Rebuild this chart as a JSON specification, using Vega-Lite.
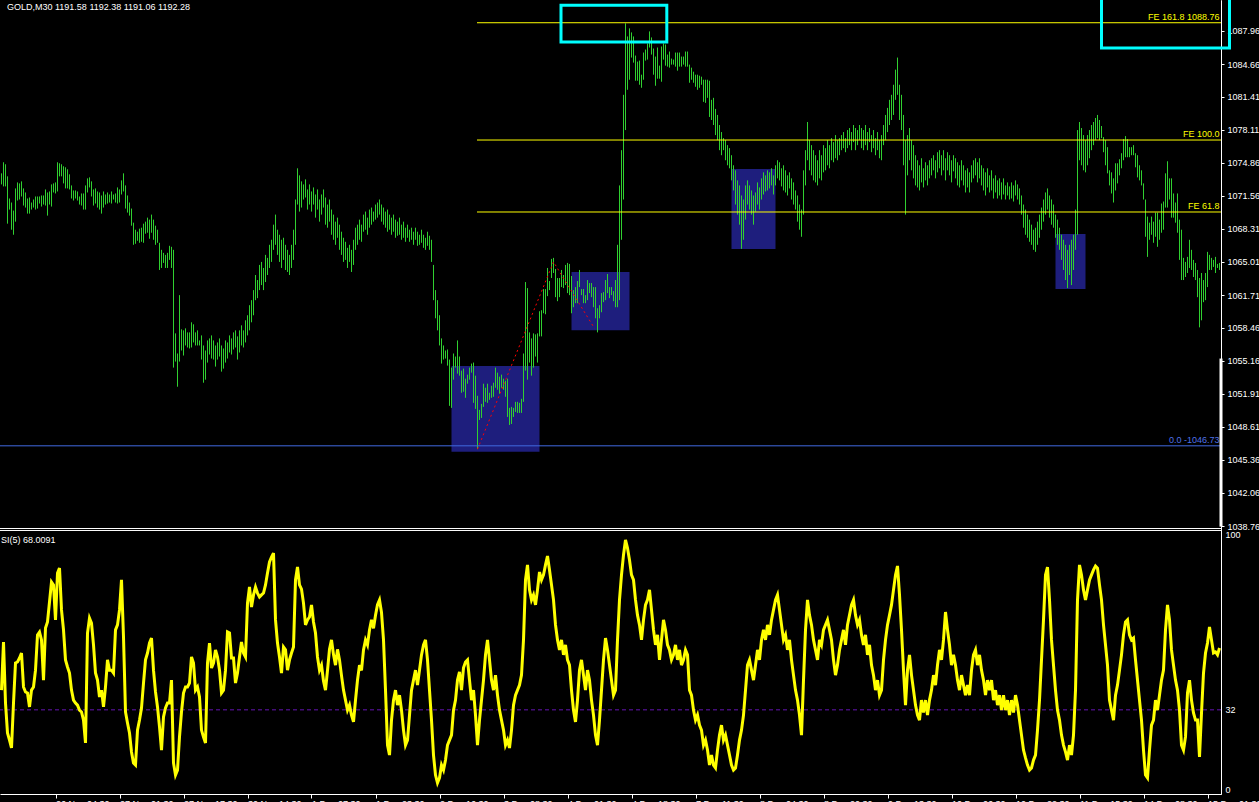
{
"$schema":"https://vega.github.io/schema/vega-lite/v6.json",
"width":1221,"height":794,
"autosize":{"type":"none"},
"padding":{"left":0,"top":0,"right":38,"bottom":8},
"background":"#000000",
"config":{"view":{"stroke":null},"axis":{"grid":false},"text":{"font":"Liberation Sans","fontSize":9}},
"datasets":{
"bars":[
{"i":0,"p":1073.8,"p2":1072.7,"r":39.5},{"i":1,"p":1074.9,"p2":1072.5,"r":57.8},{"i":2,"p":1074.7,"p2":1072.5,"r":34.6},{"i":3,"p":1073.5,"p2":1068.8,"r":23.2},{"i":4,"p":1071.3,"p2":1070.2,"r":20.5},{"i":5,"p":1070.9,"p2":1068.2,"r":17.5},{"i":6,"p":1070.1,"p2":1067.7,"r":34.6},{"i":7,"p":1072.3,"p2":1069.0,"r":49.8},{"i":8,"p":1072.9,"p2":1071.1,"r":50.2},{"i":9,"p":1072.8,"p2":1071.2,"r":51.7},
{"i":10,"p":1073.0,"p2":1071.5,"r":53.6},{"i":11,"p":1072.3,"p2":1070.6,"r":40.7},{"i":12,"p":1071.9,"p2":1070.4,"r":38.8},{"i":13,"p":1071.3,"p2":1069.8,"r":38.4},{"i":14,"p":1071.4,"p2":1069.8,"r":33.1},{"i":15,"p":1070.9,"p2":1070.2,"r":39.5},{"i":16,"p":1071.2,"p2":1070.4,"r":40.7},{"i":17,"p":1071.5,"p2":1070.2,"r":47.1},{"i":18,"p":1071.5,"p2":1070.3,"r":60.5},{"i":19,"p":1071.5,"p2":1070.8,"r":61.6},
{"i":20,"p":1071.6,"p2":1070.5,"r":58.6},{"i":21,"p":1071.6,"p2":1070.7,"r":43.3},{"i":22,"p":1072.2,"p2":1070.6,"r":63.1},{"i":23,"p":1071.9,"p2":1069.6,"r":65.4},{"i":24,"p":1072.0,"p2":1070.7,"r":73.0},{"i":25,"p":1072.7,"p2":1070.5,"r":80.6},{"i":26,"p":1072.8,"p2":1071.9,"r":79.5},{"i":27,"p":1072.9,"p2":1071.8,"r":66.2},{"i":28,"p":1074.9,"p2":1072.0,"r":84.0},{"i":29,"p":1074.8,"p2":1073.5,"r":85.9},
{"i":30,"p":1074.7,"p2":1073.5,"r":70.0},{"i":31,"p":1074.5,"p2":1072.8,"r":62.4},{"i":32,"p":1074.4,"p2":1072.3,"r":51.0},{"i":33,"p":1074.2,"p2":1072.3,"r":48.3},{"i":34,"p":1073.7,"p2":1072.2,"r":46.0},{"i":35,"p":1072.6,"p2":1071.3,"r":39.5},{"i":36,"p":1072.1,"p2":1071.1,"r":35.7},{"i":37,"p":1072.1,"p2":1071.3,"r":34.6},{"i":38,"p":1072.0,"p2":1071.1,"r":33.8},{"i":39,"p":1071.5,"p2":1070.7,"r":31.9},
{"i":40,"p":1071.8,"p2":1070.6,"r":31.2},{"i":41,"p":1071.8,"p2":1070.2,"r":28.1},{"i":42,"p":1072.6,"p2":1070.2,"r":19.4},{"i":43,"p":1073.3,"p2":1071.9,"r":61.2},{"i":44,"p":1073.4,"p2":1072.4,"r":66.9},{"i":45,"p":1073.0,"p2":1071.5,"r":65.0},{"i":46,"p":1072.2,"p2":1070.6,"r":56.7},{"i":47,"p":1072.3,"p2":1070.8,"r":46.0},{"i":48,"p":1072.0,"p2":1070.4,"r":43.3},{"i":49,"p":1071.9,"p2":1070.2,"r":36.9},
{"i":50,"p":1071.6,"p2":1069.8,"r":39.5},{"i":51,"p":1072.0,"p2":1070.4,"r":33.1},{"i":52,"p":1071.7,"p2":1070.7,"r":40.7},{"i":53,"p":1071.9,"p2":1070.8,"r":51.0},{"i":54,"p":1071.7,"p2":1070.9,"r":47.1},{"i":55,"p":1072.0,"p2":1070.8,"r":47.1},{"i":56,"p":1071.7,"p2":1071.2,"r":46.0},{"i":57,"p":1071.8,"p2":1070.9,"r":62.4},{"i":58,"p":1072.4,"p2":1070.8,"r":64.3},{"i":59,"p":1072.2,"p2":1070.9,"r":70.0},
{"i":60,"p":1073.1,"p2":1071.7,"r":81.4},{"i":61,"p":1073.8,"p2":1072.0,"r":59.7},{"i":62,"p":1072.6,"p2":1070.3,"r":31.2},{"i":63,"p":1071.6,"p2":1069.9,"r":27.0},{"i":64,"p":1070.9,"p2":1069.6,"r":23.2},{"i":65,"p":1070.3,"p2":1068.6,"r":16.0},{"i":66,"p":1068.9,"p2":1066.7,"r":11.8},{"i":67,"p":1068.2,"p2":1066.8,"r":11.0},{"i":68,"p":1068.0,"p2":1067.1,"r":24.3},{"i":69,"p":1068.3,"p2":1066.9,"r":28.1},
{"i":70,"p":1068.4,"p2":1067.0,"r":32.7},{"i":71,"p":1068.8,"p2":1066.9,"r":42.2},{"i":72,"p":1069.0,"p2":1067.8,"r":51.0},{"i":73,"p":1069.4,"p2":1067.9,"r":53.6},{"i":74,"p":1069.2,"p2":1067.3,"r":57.4},{"i":75,"p":1069.7,"p2":1067.9,"r":59.3},{"i":76,"p":1069.2,"p2":1067.2,"r":47.1},{"i":77,"p":1068.6,"p2":1066.7,"r":38.8},{"i":78,"p":1068.2,"p2":1066.9,"r":33.1},{"i":79,"p":1066.9,"p2":1064.2,"r":25.5},
{"i":80,"p":1066.2,"p2":1064.4,"r":16.7},{"i":81,"p":1065.9,"p2":1064.9,"r":29.3},{"i":82,"p":1065.7,"p2":1064.4,"r":32.7},{"i":83,"p":1065.9,"p2":1064.4,"r":34.6},{"i":84,"p":1066.6,"p2":1065.2,"r":34.6},{"i":85,"p":1066.5,"p2":1064.4,"r":43.3},{"i":86,"p":1066.2,"p2":1054.5,"r":11.8},{"i":87,"p":1057.9,"p2":1055.1,"r":7.2},{"i":88,"p":1055.9,"p2":1052.6,"r":9.1},{"i":89,"p":1061.7,"p2":1055.1,"r":21.7},
{"i":90,"p":1058.3,"p2":1056.2,"r":31.2},{"i":91,"p":1058.2,"p2":1055.7,"r":38.4},{"i":92,"p":1058.4,"p2":1056.7,"r":40.7},{"i":93,"p":1058.0,"p2":1056.5,"r":40.7},{"i":94,"p":1058.0,"p2":1056.4,"r":42.2},{"i":95,"p":1059.0,"p2":1056.5,"r":52.1},{"i":96,"p":1058.8,"p2":1057.0,"r":49.8},{"i":97,"p":1058.0,"p2":1056.7,"r":39.5},{"i":98,"p":1058.2,"p2":1056.7,"r":40.7},{"i":99,"p":1057.2,"p2":1056.7,"r":36.9},
{"i":100,"p":1057.7,"p2":1055.3,"r":24.3},{"i":101,"p":1056.7,"p2":1053.0,"r":21.7},{"i":102,"p":1056.2,"p2":1053.3,"r":19.4},{"i":103,"p":1057.2,"p2":1055.0,"r":49.8},{"i":104,"p":1057.4,"p2":1055.8,"r":57.4},{"i":105,"p":1057.7,"p2":1055.4,"r":47.9},{"i":106,"p":1057.2,"p2":1055.3,"r":49.8},{"i":107,"p":1056.7,"p2":1054.6,"r":54.8},{"i":108,"p":1057.0,"p2":1055.3,"r":52.1},{"i":109,"p":1057.4,"p2":1055.6,"r":47.1},
{"i":110,"p":1056.7,"p2":1054.1,"r":38.4},{"i":111,"p":1056.4,"p2":1054.4,"r":39.5},{"i":112,"p":1057.2,"p2":1055.0,"r":47.1},{"i":113,"p":1057.0,"p2":1055.4,"r":61.6},{"i":114,"p":1057.7,"p2":1056.0,"r":61.2},{"i":115,"p":1057.4,"p2":1055.8,"r":51.7},{"i":116,"p":1058.0,"p2":1056.3,"r":51.7},{"i":117,"p":1058.2,"p2":1056.5,"r":42.2},{"i":118,"p":1057.6,"p2":1055.3,"r":46.0},{"i":119,"p":1058.2,"p2":1056.0,"r":52.1},
{"i":120,"p":1058.7,"p2":1056.7,"r":57.8},{"i":121,"p":1058.2,"p2":1056.5,"r":53.6},{"i":122,"p":1059.2,"p2":1057.0,"r":52.1},{"i":123,"p":1059.7,"p2":1057.7,"r":72.6},{"i":124,"p":1060.7,"p2":1058.2,"r":78.7},{"i":125,"p":1061.2,"p2":1059.0,"r":71.1},{"i":126,"p":1062.2,"p2":1059.7,"r":75.7},{"i":127,"p":1063.7,"p2":1061.2,"r":78.7},{"i":128,"p":1063.2,"p2":1061.4,"r":76.4},{"i":129,"p":1064.7,"p2":1062.2,"r":74.9},
{"i":130,"p":1065.0,"p2":1062.7,"r":75.7},{"i":131,"p":1064.4,"p2":1062.2,"r":76.4},{"i":132,"p":1065.7,"p2":1063.0,"r":79.5},{"i":133,"p":1065.4,"p2":1063.7,"r":84.0},{"i":134,"p":1066.7,"p2":1064.4,"r":88.2},{"i":135,"p":1067.2,"p2":1065.0,"r":90.1},{"i":136,"p":1068.7,"p2":1066.2,"r":91.6},{"i":137,"p":1069.7,"p2":1066.7,"r":66.2},{"i":138,"p":1068.2,"p2":1065.7,"r":57.4},{"i":139,"p":1067.7,"p2":1065.0,"r":52.1},
{"i":140,"p":1067.2,"p2":1064.4,"r":46.0},{"i":141,"p":1067.4,"p2":1065.2,"r":55.9},{"i":142,"p":1066.7,"p2":1064.2,"r":54.8},{"i":143,"p":1066.2,"p2":1064.0,"r":47.1},{"i":144,"p":1065.7,"p2":1063.7,"r":51.0},{"i":145,"p":1066.7,"p2":1064.4,"r":53.6},{"i":146,"p":1068.2,"p2":1065.2,"r":55.9},{"i":147,"p":1071.2,"p2":1066.7,"r":81.4},{"i":148,"p":1074.3,"p2":1070.7,"r":86.3},{"i":149,"p":1073.6,"p2":1070.0,"r":79.5},
{"i":150,"p":1073.0,"p2":1070.4,"r":77.9},{"i":151,"p":1072.7,"p2":1071.2,"r":72.6},{"i":152,"p":1073.2,"p2":1071.4,"r":64.3},{"i":153,"p":1072.2,"p2":1070.2,"r":66.2},{"i":154,"p":1072.7,"p2":1070.7,"r":67.3},{"i":155,"p":1072.0,"p2":1070.0,"r":71.9},{"i":156,"p":1072.4,"p2":1070.7,"r":65.4},{"i":157,"p":1071.7,"p2":1069.4,"r":61.2},{"i":158,"p":1072.2,"p2":1070.2,"r":52.1},{"i":159,"p":1071.2,"p2":1069.0,"r":47.1},
{"i":160,"p":1071.7,"p2":1069.7,"r":49.0},{"i":161,"p":1072.2,"p2":1070.4,"r":43.0},{"i":162,"p":1071.4,"p2":1068.7,"r":39.5},{"i":163,"p":1070.7,"p2":1068.4,"r":47.0},{"i":164,"p":1071.2,"p2":1069.0,"r":55.0},{"i":165,"p":1070.2,"p2":1067.7,"r":58.6},{"i":166,"p":1069.7,"p2":1067.2,"r":53.0},{"i":167,"p":1069.0,"p2":1066.7,"r":49.0},{"i":168,"p":1069.4,"p2":1067.4,"r":55.0},{"i":169,"p":1068.7,"p2":1066.2,"r":51.0},
{"i":170,"p":1068.0,"p2":1065.7,"r":45.0},{"i":171,"p":1067.4,"p2":1065.0,"r":39.5},{"i":172,"p":1067.0,"p2":1065.2,"r":35.7},{"i":173,"p":1066.4,"p2":1064.4,"r":31.9},{"i":174,"p":1066.7,"p2":1065.0,"r":33.8},{"i":175,"p":1066.2,"p2":1064.0,"r":30.0},{"i":176,"p":1067.2,"p2":1064.7,"r":27.4},{"i":177,"p":1068.4,"p2":1066.2,"r":35.7},{"i":178,"p":1068.7,"p2":1066.7,"r":43.3},{"i":179,"p":1069.2,"p2":1067.2,"r":49.0},
{"i":180,"p":1068.7,"p2":1067.0,"r":47.0},{"i":181,"p":1069.7,"p2":1068.0,"r":54.8},{"i":182,"p":1070.0,"p2":1068.2,"r":58.6},{"i":183,"p":1069.4,"p2":1067.7,"r":56.7},{"i":184,"p":1070.2,"p2":1068.4,"r":62.4},{"i":185,"p":1070.4,"p2":1068.7,"r":66.2},{"i":186,"p":1070.0,"p2":1069.0,"r":63.0},{"i":187,"p":1070.7,"p2":1069.2,"r":68.0},{"i":188,"p":1070.9,"p2":1069.4,"r":72.0},{"i":189,"p":1071.2,"p2":1069.7,"r":73.8},
{"i":190,"p":1070.7,"p2":1069.0,"r":69.0},{"i":191,"p":1070.4,"p2":1068.7,"r":58.6},{"i":192,"p":1070.0,"p2":1068.4,"r":39.5},{"i":193,"p":1070.2,"p2":1068.0,"r":18.6},{"i":194,"p":1069.7,"p2":1068.2,"r":14.8},{"i":195,"p":1069.4,"p2":1067.7,"r":28.1},{"i":196,"p":1069.7,"p2":1068.0,"r":35.7},{"i":197,"p":1069.2,"p2":1067.4,"r":39.5},{"i":198,"p":1069.0,"p2":1067.6,"r":33.8},{"i":199,"p":1069.4,"p2":1067.7,"r":37.6},
{"i":200,"p":1068.7,"p2":1067.2,"r":31.9},{"i":201,"p":1069.0,"p2":1067.4,"r":24.3},{"i":202,"p":1068.4,"p2":1067.0,"r":18.6},{"i":203,"p":1068.7,"p2":1067.4,"r":20.5},{"i":204,"p":1068.2,"p2":1067.0,"r":30.0},{"i":205,"p":1068.4,"p2":1067.2,"r":39.5},{"i":206,"p":1068.0,"p2":1066.7,"r":43.3},{"i":207,"p":1068.4,"p2":1067.2,"r":47.1},{"i":208,"p":1068.0,"p2":1066.6,"r":41.4},{"i":209,"p":1067.7,"p2":1066.7,"r":47.1},
{"i":210,"p":1068.2,"p2":1066.9,"r":52.9},{"i":211,"p":1067.7,"p2":1066.4,"r":56.7},{"i":212,"p":1067.4,"p2":1066.2,"r":58.6},{"i":213,"p":1068.0,"p2":1066.6,"r":51.0},{"i":214,"p":1067.6,"p2":1066.2,"r":39.5},{"i":215,"p":1067.2,"p2":1065.0,"r":28.1},{"i":216,"p":1064.7,"p2":1061.2,"r":14.8},{"i":217,"p":1062.2,"p2":1059.4,"r":7.2},{"i":218,"p":1061.2,"p2":1058.2,"r":4.2},{"i":219,"p":1059.7,"p2":1056.7,"r":6.1},
{"i":220,"p":1057.4,"p2":1054.9,"r":11.0},{"i":221,"p":1056.7,"p2":1055.3,"r":9.1},{"i":222,"p":1056.2,"p2":1055.4,"r":12.9},{"i":223,"p":1056.3,"p2":1054.7,"r":18.6},{"i":224,"p":1055.3,"p2":1050.7,"r":20.5},{"i":225,"p":1054.5,"p2":1050.5,"r":22.4},{"i":226,"p":1055.9,"p2":1053.3,"r":31.9},{"i":227,"p":1055.6,"p2":1054.5,"r":35.7},{"i":228,"p":1057.2,"p2":1053.9,"r":43.3},{"i":229,"p":1055.6,"p2":1053.7,"r":46.4},
{"i":230,"p":1054.2,"p2":1052.0,"r":39.5},{"i":231,"p":1054.4,"p2":1052.1,"r":48.0},{"i":232,"p":1053.4,"p2":1051.5,"r":50.2},{"i":233,"p":1053.8,"p2":1052.9,"r":51.0},{"i":234,"p":1054.5,"p2":1053.3,"r":43.3},{"i":235,"p":1054.9,"p2":1054.0,"r":35.7},{"i":236,"p":1055.0,"p2":1051.0,"r":39.5},{"i":237,"p":1053.7,"p2":1050.4,"r":30.0},{"i":238,"p":1051.7,"p2":1046.4,"r":18.6},{"i":239,"p":1050.3,"p2":1049.3,"r":28.1},
{"i":240,"p":1050.9,"p2":1049.5,"r":35.7},{"i":241,"p":1052.9,"p2":1050.6,"r":43.3},{"i":242,"p":1052.5,"p2":1051.1,"r":52.9},{"i":243,"p":1052.9,"p2":1051.0,"r":58.6},{"i":244,"p":1052.0,"p2":1051.3,"r":51.0},{"i":245,"p":1052.7,"p2":1051.5,"r":43.3},{"i":246,"p":1053.0,"p2":1051.6,"r":39.5},{"i":247,"p":1054.5,"p2":1052.5,"r":45.2},{"i":248,"p":1054.0,"p2":1052.3,"r":37.6},{"i":249,"p":1053.6,"p2":1051.9,"r":31.9},
{"i":250,"p":1053.8,"p2":1052.5,"r":28.1},{"i":251,"p":1053.4,"p2":1052.3,"r":24.3},{"i":252,"p":1053.2,"p2":1051.6,"r":18.6},{"i":253,"p":1053.4,"p2":1049.6,"r":20.5},{"i":254,"p":1050.5,"p2":1048.8,"r":17.5},{"i":255,"p":1050.6,"p2":1048.9,"r":24.3},{"i":256,"p":1050.5,"p2":1049.6,"r":33.8},{"i":257,"p":1051.1,"p2":1050.1,"r":37.6},{"i":258,"p":1051.1,"p2":1050.0,"r":39.5},{"i":259,"p":1051.0,"p2":1050.0,"r":41.4},
{"i":260,"p":1051.4,"p2":1050.0,"r":45.2},{"i":261,"p":1055.9,"p2":1051.1,"r":58.6},{"i":262,"p":1063.0,"p2":1054.2,"r":81.4},{"i":263,"p":1062.4,"p2":1053.3,"r":87.1},{"i":264,"p":1058.0,"p2":1055.0,"r":77.6},{"i":265,"p":1057.4,"p2":1053.7,"r":73.8},{"i":266,"p":1057.9,"p2":1054.5,"r":75.7},{"i":267,"p":1057.8,"p2":1055.6,"r":71.9},{"i":268,"p":1057.9,"p2":1055.0,"r":77.6},{"i":269,"p":1060.1,"p2":1057.6,"r":84.4},
{"i":270,"p":1060.2,"p2":1057.6,"r":81.4},{"i":271,"p":1062.3,"p2":1059.9,"r":83.3},{"i":272,"p":1062.3,"p2":1059.8,"r":87.1},{"i":273,"p":1064.4,"p2":1061.6,"r":90.5},{"i":274,"p":1063.1,"p2":1062.2,"r":85.2},{"i":275,"p":1065.3,"p2":1063.4,"r":79.5},{"i":276,"p":1065.4,"p2":1063.9,"r":73.8},{"i":277,"p":1064.3,"p2":1061.5,"r":64.3},{"i":278,"p":1063.4,"p2":1061.1,"r":58.6},{"i":279,"p":1063.4,"p2":1061.5,"r":54.8},
{"i":280,"p":1064.2,"p2":1062.5,"r":58.6},{"i":281,"p":1063.7,"p2":1062.4,"r":52.9},{"i":282,"p":1064.7,"p2":1062.7,"r":56.7},{"i":283,"p":1064.9,"p2":1061.9,"r":51.0},{"i":284,"p":1064.8,"p2":1061.7,"r":49.0},{"i":285,"p":1063.6,"p2":1059.9,"r":39.5},{"i":286,"p":1062.2,"p2":1060.5,"r":31.9},{"i":287,"p":1062.5,"p2":1060.9,"r":27.4},{"i":288,"p":1063.1,"p2":1060.9,"r":35.7},{"i":289,"p":1064.2,"p2":1062.5,"r":47.1},
{"i":290,"p":1062.3,"p2":1061.7,"r":51.0},{"i":291,"p":1062.3,"p2":1060.9,"r":45.2},{"i":292,"p":1061.7,"p2":1060.9,"r":39.5},{"i":293,"p":1063.2,"p2":1061.2,"r":47.1},{"i":294,"p":1062.9,"p2":1061.9,"r":43.3},{"i":295,"p":1062.9,"p2":1061.5,"r":35.7},{"i":296,"p":1062.5,"p2":1060.5,"r":30.0},{"i":297,"p":1062.5,"p2":1059.4,"r":22.4},{"i":298,"p":1060.4,"p2":1058.0,"r":18.6},{"i":299,"p":1060.7,"p2":1059.4,"r":28.1},
{"i":300,"p":1061.9,"p2":1060.0,"r":39.5},{"i":301,"p":1062.0,"p2":1061.0,"r":51.0},{"i":302,"p":1063.2,"p2":1061.2,"r":59.3},{"i":303,"p":1063.8,"p2":1061.9,"r":54.8},{"i":304,"p":1062.5,"p2":1061.4,"r":49.0},{"i":305,"p":1062.5,"p2":1061.7,"r":43.3},{"i":306,"p":1062.1,"p2":1061.1,"r":37.6},{"i":307,"p":1063.2,"p2":1060.5,"r":39.5},{"i":308,"p":1066.7,"p2":1060.5,"r":58.6},{"i":309,"p":1072.6,"p2":1061.2,"r":73.8},
{"i":310,"p":1076.1,"p2":1067.2,"r":83.3},{"i":311,"p":1081.6,"p2":1071.2,"r":90.9},{"i":312,"p":1088.7,"p2":1078.1,"r":96.6},{"i":313,"p":1087.4,"p2":1082.1,"r":93.5},{"i":314,"p":1088.2,"p2":1083.1,"r":89.0},{"i":315,"p":1087.8,"p2":1085.3,"r":83.3},{"i":316,"p":1087.4,"p2":1084.8,"r":81.4},{"i":317,"p":1085.5,"p2":1083.0,"r":73.8},{"i":318,"p":1084.9,"p2":1083.0,"r":68.0},{"i":319,"p":1085.0,"p2":1082.6,"r":64.3},
{"i":320,"p":1083.6,"p2":1082.3,"r":58.6},{"i":321,"p":1085.8,"p2":1083.1,"r":66.2},{"i":322,"p":1086.1,"p2":1085.0,"r":71.9},{"i":323,"p":1086.7,"p2":1085.1,"r":73.8},{"i":324,"p":1087.9,"p2":1086.3,"r":77.6},{"i":325,"p":1087.3,"p2":1085.6,"r":70.0},{"i":326,"p":1086.2,"p2":1083.6,"r":62.4},{"i":327,"p":1085.4,"p2":1082.5,"r":56.7},{"i":328,"p":1086.3,"p2":1083.2,"r":60.5},{"i":329,"p":1084.5,"p2":1083.2,"r":51.0},
{"i":330,"p":1086.4,"p2":1082.9,"r":58.6},{"i":331,"p":1086.7,"p2":1085.1,"r":66.2},{"i":332,"p":1086.6,"p2":1084.5,"r":62.4},{"i":333,"p":1085.6,"p2":1084.4,"r":56.7},{"i":334,"p":1085.9,"p2":1084.3,"r":54.8},{"i":335,"p":1085.2,"p2":1084.6,"r":51.0},{"i":336,"p":1085.1,"p2":1084.6,"r":52.9},{"i":337,"p":1085.8,"p2":1084.4,"r":56.7},{"i":338,"p":1085.8,"p2":1084.0,"r":51.0},{"i":339,"p":1085.8,"p2":1084.4,"r":54.8},
{"i":340,"p":1085.4,"p2":1084.4,"r":49.0},{"i":341,"p":1085.4,"p2":1084.6,"r":51.0},{"i":342,"p":1085.9,"p2":1084.4,"r":54.8},{"i":343,"p":1085.9,"p2":1084.4,"r":52.9},{"i":344,"p":1084.6,"p2":1082.8,"r":39.5},{"i":345,"p":1084.3,"p2":1083.1,"r":37.6},{"i":346,"p":1083.9,"p2":1082.8,"r":31.9},{"i":347,"p":1083.6,"p2":1082.4,"r":28.1},{"i":348,"p":1083.6,"p2":1082.1,"r":30.0},{"i":349,"p":1083.5,"p2":1082.3,"r":26.2},
{"i":350,"p":1083.4,"p2":1082.6,"r":24.3},{"i":351,"p":1083.1,"p2":1080.9,"r":18.6},{"i":352,"p":1083.1,"p2":1080.8,"r":20.5},{"i":353,"p":1083.1,"p2":1081.3,"r":16.7},{"i":354,"p":1083.0,"p2":1079.4,"r":11.0},{"i":355,"p":1081.1,"p2":1079.1,"r":14.8},{"i":356,"p":1081.3,"p2":1078.6,"r":11.0},{"i":357,"p":1080.2,"p2":1077.6,"r":9.9},{"i":358,"p":1079.6,"p2":1077.1,"r":16.7},{"i":359,"p":1078.6,"p2":1076.1,"r":22.4},
{"i":360,"p":1077.9,"p2":1075.6,"r":26.2},{"i":361,"p":1077.3,"p2":1076.1,"r":20.5},{"i":362,"p":1077.1,"p2":1075.1,"r":22.4},{"i":363,"p":1076.6,"p2":1074.6,"r":18.6},{"i":364,"p":1076.3,"p2":1074.3,"r":14.8},{"i":365,"p":1075.6,"p2":1073.1,"r":11.0},{"i":366,"p":1074.6,"p2":1072.1,"r":9.1},{"i":367,"p":1074.1,"p2":1070.7,"r":9.9},{"i":368,"p":1073.1,"p2":1069.7,"r":14.8},{"i":369,"p":1072.6,"p2":1068.7,"r":20.5},
{"i":370,"p":1071.6,"p2":1066.3,"r":24.3},{"i":371,"p":1071.2,"p2":1067.2,"r":30.0},{"i":372,"p":1072.6,"p2":1069.2,"r":39.5},{"i":373,"p":1073.1,"p2":1070.7,"r":49.0},{"i":374,"p":1072.6,"p2":1070.2,"r":51.0},{"i":375,"p":1072.1,"p2":1069.7,"r":47.1},{"i":376,"p":1071.6,"p2":1068.7,"r":43.3},{"i":377,"p":1071.9,"p2":1070.0,"r":49.0},{"i":378,"p":1072.9,"p2":1070.7,"r":54.8},{"i":379,"p":1072.4,"p2":1070.2,"r":51.0},
{"i":380,"p":1073.3,"p2":1071.2,"r":58.6},{"i":381,"p":1073.9,"p2":1071.7,"r":62.4},{"i":382,"p":1073.6,"p2":1072.0,"r":58.6},{"i":383,"p":1074.1,"p2":1072.1,"r":64.3},{"i":384,"p":1073.9,"p2":1072.3,"r":60.5},{"i":385,"p":1074.3,"p2":1072.6,"r":66.2},{"i":386,"p":1073.6,"p2":1071.7,"r":70.0},{"i":387,"p":1074.6,"p2":1072.6,"r":73.8},{"i":388,"p":1075.1,"p2":1073.3,"r":75.7},{"i":389,"p":1074.9,"p2":1073.1,"r":70.0},
{"i":390,"p":1074.3,"p2":1072.5,"r":64.3},{"i":391,"p":1074.6,"p2":1072.1,"r":58.6},{"i":392,"p":1074.1,"p2":1071.9,"r":60.5},{"i":393,"p":1073.6,"p2":1071.6,"r":54.8},{"i":394,"p":1073.9,"p2":1072.3,"r":58.6},{"i":395,"p":1073.3,"p2":1071.2,"r":51.0},{"i":396,"p":1072.9,"p2":1070.7,"r":45.2},{"i":397,"p":1072.1,"p2":1070.2,"r":39.5},{"i":398,"p":1071.6,"p2":1069.0,"r":35.7},{"i":399,"p":1070.7,"p2":1068.2,"r":30.0},
{"i":400,"p":1070.2,"p2":1067.5,"r":22.4},{"i":401,"p":1074.1,"p2":1069.7,"r":43.3},{"i":402,"p":1076.1,"p2":1072.6,"r":62.4},{"i":403,"p":1078.9,"p2":1075.1,"r":73.8},{"i":404,"p":1077.1,"p2":1074.1,"r":68.0},{"i":405,"p":1076.6,"p2":1073.6,"r":64.3},{"i":406,"p":1076.1,"p2":1073.1,"r":58.6},{"i":407,"p":1075.6,"p2":1072.9,"r":54.8},{"i":408,"p":1075.1,"p2":1072.6,"r":51.0},{"i":409,"p":1076.1,"p2":1073.3,"r":58.6},
{"i":410,"p":1075.6,"p2":1073.1,"r":56.7},{"i":411,"p":1076.6,"p2":1073.9,"r":62.4},{"i":412,"p":1076.3,"p2":1074.1,"r":64.3},{"i":413,"p":1077.1,"p2":1074.6,"r":66.2},{"i":414,"p":1076.6,"p2":1074.3,"r":62.4},{"i":415,"p":1077.3,"p2":1075.1,"r":58.6},{"i":416,"p":1076.9,"p2":1074.9,"r":51.0},{"i":417,"p":1077.6,"p2":1075.3,"r":45.2},{"i":418,"p":1077.1,"p2":1075.1,"r":49.0},{"i":419,"p":1077.3,"p2":1075.6,"r":54.8},
{"i":420,"p":1077.6,"p2":1076.1,"r":58.6},{"i":421,"p":1077.9,"p2":1076.3,"r":62.4},{"i":422,"p":1077.3,"p2":1075.9,"r":56.7},{"i":423,"p":1078.1,"p2":1076.3,"r":64.3},{"i":424,"p":1078.3,"p2":1076.6,"r":68.0},{"i":425,"p":1077.9,"p2":1076.1,"r":71.9},{"i":426,"p":1078.6,"p2":1076.9,"r":73.8},{"i":427,"p":1078.3,"p2":1076.1,"r":68.0},{"i":428,"p":1078.1,"p2":1076.6,"r":64.3},{"i":429,"p":1078.6,"p2":1077.1,"r":66.2},
{"i":430,"p":1078.3,"p2":1076.3,"r":60.5},{"i":431,"p":1078.1,"p2":1076.1,"r":56.7},{"i":432,"p":1078.6,"p2":1076.6,"r":60.5},{"i":433,"p":1077.9,"p2":1076.1,"r":52.9},{"i":434,"p":1078.3,"p2":1076.9,"r":56.7},{"i":435,"p":1077.6,"p2":1075.9,"r":49.0},{"i":436,"p":1078.1,"p2":1076.3,"r":45.2},{"i":437,"p":1077.3,"p2":1075.6,"r":39.5},{"i":438,"p":1077.9,"p2":1076.1,"r":43.3},{"i":439,"p":1077.1,"p2":1075.3,"r":37.6},
{"i":440,"p":1077.6,"p2":1075.1,"r":39.5},{"i":441,"p":1078.6,"p2":1076.6,"r":51.0},{"i":442,"p":1079.6,"p2":1077.1,"r":58.6},{"i":443,"p":1080.3,"p2":1077.9,"r":64.3},{"i":444,"p":1081.1,"p2":1078.6,"r":68.0},{"i":445,"p":1081.6,"p2":1079.1,"r":71.9},{"i":446,"p":1082.6,"p2":1079.6,"r":77.6},{"i":447,"p":1084.1,"p2":1081.1,"r":83.3},{"i":448,"p":1085.3,"p2":1081.6,"r":86.7},{"i":449,"p":1082.6,"p2":1079.1,"r":75.7},
{"i":450,"p":1081.6,"p2":1078.1,"r":62.4},{"i":451,"p":1079.6,"p2":1074.6,"r":47.1},{"i":452,"p":1077.1,"p2":1069.7,"r":33.8},{"i":453,"p":1077.6,"p2":1073.6,"r":47.1},{"i":454,"p":1078.3,"p2":1075.1,"r":52.9},{"i":455,"p":1077.1,"p2":1074.1,"r":45.2},{"i":456,"p":1076.6,"p2":1073.3,"r":39.5},{"i":457,"p":1075.6,"p2":1072.6,"r":33.8},{"i":458,"p":1075.1,"p2":1072.4,"r":30.0},{"i":459,"p":1074.6,"p2":1072.1,"r":28.1},
{"i":460,"p":1075.3,"p2":1072.9,"r":35.7},{"i":461,"p":1074.3,"p2":1072.4,"r":31.0},{"i":462,"p":1074.9,"p2":1073.1,"r":35.7},{"i":463,"p":1074.6,"p2":1072.6,"r":30.0},{"i":464,"p":1075.1,"p2":1073.3,"r":35.7},{"i":465,"p":1075.3,"p2":1073.6,"r":39.5},{"i":466,"p":1075.6,"p2":1074.1,"r":45.2},{"i":467,"p":1075.1,"p2":1073.3,"r":41.4},{"i":468,"p":1075.9,"p2":1073.9,"r":49.0},{"i":469,"p":1076.1,"p2":1074.3,"r":54.8},
{"i":470,"p":1075.6,"p2":1073.6,"r":51.0},{"i":471,"p":1076.1,"p2":1074.1,"r":58.6},{"i":472,"p":1075.3,"p2":1073.1,"r":69.2},{"i":473,"p":1075.9,"p2":1074.1,"r":62.4},{"i":474,"p":1075.6,"p2":1073.6,"r":56.7},{"i":475,"p":1075.1,"p2":1072.9,"r":49.0},{"i":476,"p":1075.6,"p2":1074.0,"r":52.9},{"i":477,"p":1075.3,"p2":1073.3,"r":49.0},{"i":478,"p":1074.9,"p2":1072.6,"r":43.3},{"i":479,"p":1074.6,"p2":1072.4,"r":39.5},
{"i":480,"p":1075.1,"p2":1073.1,"r":45.2},{"i":481,"p":1074.6,"p2":1072.6,"r":41.4},{"i":482,"p":1074.1,"p2":1071.9,"r":37.6},{"i":483,"p":1074.3,"p2":1072.4,"r":41.4},{"i":484,"p":1073.9,"p2":1071.9,"r":37.6},{"i":485,"p":1074.6,"p2":1072.9,"r":47.1},{"i":486,"p":1075.1,"p2":1073.3,"r":52.9},{"i":487,"p":1075.3,"p2":1073.6,"r":54.8},{"i":488,"p":1074.9,"p2":1072.9,"r":49.0},{"i":489,"p":1075.3,"p2":1073.3,"r":52.9},
{"i":490,"p":1074.6,"p2":1072.6,"r":47.1},{"i":491,"p":1074.3,"p2":1072.1,"r":43.3},{"i":492,"p":1073.9,"p2":1071.6,"r":37.6},{"i":493,"p":1074.3,"p2":1072.4,"r":43.3},{"i":494,"p":1073.6,"p2":1071.9,"r":39.5},{"i":495,"p":1074.1,"p2":1072.1,"r":43.3},{"i":496,"p":1073.3,"p2":1071.3,"r":35.7},{"i":497,"p":1073.6,"p2":1071.9,"r":39.5},{"i":498,"p":1073.1,"p2":1071.3,"r":33.8},{"i":499,"p":1073.3,"p2":1071.6,"r":37.6},
{"i":500,"p":1072.9,"p2":1071.2,"r":31.9},{"i":501,"p":1073.3,"p2":1071.7,"r":37.6},{"i":502,"p":1072.6,"p2":1071.2,"r":31.9},{"i":503,"p":1072.9,"p2":1071.6,"r":35.7},{"i":504,"p":1072.5,"p2":1071.2,"r":30.0},{"i":505,"p":1072.9,"p2":1071.3,"r":35.7},{"i":506,"p":1072.6,"p2":1071.0,"r":31.0},{"i":507,"p":1073.1,"p2":1071.6,"r":37.6},{"i":508,"p":1072.7,"p2":1071.2,"r":33.8},{"i":509,"p":1072.3,"p2":1070.7,"r":28.1},
{"i":510,"p":1071.6,"p2":1069.7,"r":22.4},{"i":511,"p":1070.7,"p2":1068.4,"r":16.7},{"i":512,"p":1070.2,"p2":1067.7,"r":13.7},{"i":513,"p":1069.7,"p2":1067.4,"r":11.0},{"i":514,"p":1069.2,"p2":1067.0,"r":9.1},{"i":515,"p":1068.7,"p2":1066.7,"r":9.9},{"i":516,"p":1068.2,"p2":1066.2,"r":12.9},{"i":517,"p":1068.4,"p2":1066.0,"r":14.8},{"i":518,"p":1069.0,"p2":1066.7,"r":24.3},{"i":519,"p":1069.7,"p2":1067.4,"r":35.7},
{"i":520,"p":1070.4,"p2":1068.2,"r":51.0},{"i":521,"p":1071.2,"p2":1069.0,"r":66.2},{"i":522,"p":1071.9,"p2":1069.7,"r":83.3},{"i":523,"p":1072.3,"p2":1070.2,"r":86.3},{"i":524,"p":1071.6,"p2":1069.4,"r":73.8},{"i":525,"p":1071.2,"p2":1068.7,"r":58.6},{"i":526,"p":1070.7,"p2":1068.4,"r":49.0},{"i":527,"p":1069.7,"p2":1067.4,"r":39.5},{"i":528,"p":1069.2,"p2":1066.7,"r":31.9},{"i":529,"p":1068.4,"p2":1066.2,"r":28.1},
{"i":530,"p":1067.7,"p2":1065.2,"r":22.4},{"i":531,"p":1067.2,"p2":1064.2,"r":18.6},{"i":532,"p":1066.7,"p2":1063.2,"r":16.0},{"i":533,"p":1066.2,"p2":1062.4,"r":12.9},{"i":534,"p":1066.7,"p2":1063.7,"r":18.6},{"i":535,"p":1067.2,"p2":1062.7,"r":14.8},{"i":536,"p":1067.7,"p2":1064.2,"r":22.4},{"i":537,"p":1070.2,"p2":1066.2,"r":39.5},{"i":538,"p":1078.1,"p2":1067.7,"r":73.8},{"i":539,"p":1078.9,"p2":1075.1,"r":87.1},
{"i":540,"p":1078.3,"p2":1074.6,"r":83.3},{"i":541,"p":1077.6,"p2":1074.1,"r":77.6},{"i":542,"p":1077.1,"p2":1073.9,"r":73.8},{"i":543,"p":1077.6,"p2":1074.6,"r":77.6},{"i":544,"p":1078.1,"p2":1075.3,"r":81.4},{"i":545,"p":1078.6,"p2":1076.1,"r":83.3},{"i":546,"p":1078.9,"p2":1076.6,"r":85.2},{"i":547,"p":1079.3,"p2":1077.1,"r":86.7},{"i":548,"p":1079.6,"p2":1077.3,"r":85.9},{"i":549,"p":1079.1,"p2":1077.1,"r":79.5},
{"i":550,"p":1078.5,"p2":1077.3,"r":73.8},{"i":551,"p":1077.4,"p2":1075.9,"r":64.3},{"i":552,"p":1077.1,"p2":1074.6,"r":56.7},{"i":553,"p":1076.4,"p2":1073.8,"r":49.0},{"i":554,"p":1074.1,"p2":1072.6,"r":35.7},{"i":555,"p":1073.9,"p2":1071.8,"r":31.9},{"i":556,"p":1073.3,"p2":1070.9,"r":28.1},{"i":557,"p":1074.8,"p2":1072.1,"r":37.6},{"i":558,"p":1074.8,"p2":1072.8,"r":41.4},{"i":559,"p":1075.2,"p2":1073.6,"r":47.1},
{"i":560,"p":1075.8,"p2":1074.3,"r":52.9},{"i":561,"p":1077.2,"p2":1075.1,"r":60.5},{"i":562,"p":1077.5,"p2":1075.4,"r":65.4},{"i":563,"p":1077.2,"p2":1075.4,"r":66.2},{"i":564,"p":1076.4,"p2":1075.4,"r":60.5},{"i":565,"p":1076.4,"p2":1075.6,"r":58.6},{"i":566,"p":1076.6,"p2":1075.6,"r":59.3},{"i":567,"p":1075.8,"p2":1074.4,"r":51.0},{"i":568,"p":1075.6,"p2":1073.4,"r":43.3},{"i":569,"p":1074.6,"p2":1073.1,"r":35.7},
{"i":570,"p":1074.1,"p2":1072.6,"r":28.1},{"i":571,"p":1072.8,"p2":1071.2,"r":16.7},{"i":572,"p":1071.2,"p2":1067.5,"r":7.2},{"i":573,"p":1069.5,"p2":1065.5,"r":6.1},{"i":574,"p":1068.9,"p2":1067.2,"r":16.7},{"i":575,"p":1069.5,"p2":1067.7,"r":26.2},{"i":576,"p":1069.0,"p2":1066.9,"r":28.1},{"i":577,"p":1069.9,"p2":1067.5,"r":35.7},{"i":578,"p":1069.9,"p2":1066.5,"r":31.9},{"i":579,"p":1069.2,"p2":1067.2,"r":37.6},
{"i":580,"p":1070.8,"p2":1067.9,"r":43.3},{"i":581,"p":1071.0,"p2":1068.2,"r":47.1},{"i":582,"p":1073.8,"p2":1070.4,"r":62.4},{"i":583,"p":1075.0,"p2":1070.4,"r":71.9},{"i":584,"p":1073.3,"p2":1071.2,"r":66.2},{"i":585,"p":1073.3,"p2":1069.4,"r":54.8},{"i":586,"p":1071.8,"p2":1069.4,"r":49.0},{"i":587,"p":1070.9,"p2":1068.9,"r":43.3},{"i":588,"p":1071.8,"p2":1067.9,"r":39.5},{"i":589,"p":1069.2,"p2":1065.2,"r":31.9},
{"i":590,"p":1068.2,"p2":1063.2,"r":18.6},{"i":591,"p":1065.4,"p2":1063.2,"r":16.7},{"i":592,"p":1065.0,"p2":1063.5,"r":21.7},{"i":593,"p":1065.5,"p2":1063.9,"r":38.4},{"i":594,"p":1067.2,"p2":1064.4,"r":43.3},{"i":595,"p":1066.2,"p2":1064.2,"r":35.7},{"i":596,"p":1065.2,"p2":1063.5,"r":30.8},{"i":597,"p":1064.9,"p2":1063.2,"r":28.1},{"i":598,"p":1064.2,"p2":1061.5,"r":28.1},{"i":599,"p":1063.4,"p2":1058.5,"r":14.1},
{"i":600,"p":1063.9,"p2":1059.2,"r":30.8},{"i":601,"p":1063.2,"p2":1061.0,"r":46.0},{"i":602,"p":1063.9,"p2":1061.2,"r":53.6},{"i":603,"p":1066.0,"p2":1062.5,"r":57.4},{"i":604,"p":1065.7,"p2":1064.2,"r":63.5},{"i":605,"p":1065.4,"p2":1064.2,"r":58.6},{"i":606,"p":1065.2,"p2":1064.5,"r":53.6},{"i":607,"p":1065.5,"p2":1063.9,"r":54.0},{"i":608,"p":1064.8,"p2":1064.4,"r":52.9},{"i":609,"p":1064.9,"p2":1064.2,"r":55.5}
],
"fe":[{"lvl":"FE 161.8 1088.76","p":1088.76},{"lvl":"FE 100.0","p":1077.11},{"lvl":"FE 61.8","p":1069.96}],
"zero":[{"lvl":"0.0 -1046.73","p":1046.73}],
"boxes":[{"i":225,"i2":269,"p":1054.66,"p2":1046.14},{"i":285,"i2":314,"p":1064.0,"p2":1058.2},{"i":365,"i2":387,"p":1074.23,"p2":1066.28},{"i":527,"i2":542,"p":1067.77,"p2":1062.3}],
"marks":[{"i":279.75,"i2":332.65,"p":1090.49,"p2":1086.85},{"i":550,"i2":614,"p":1092.5,"p2":1086.25}],
"fibo":[{"i":238,"p":1046.4},{"i":276,"p":1065.0},{"i":296.5,"p":1058.4}],
"sep":[{"r":100.95},{"r":100.19}]
},
"layer":[
{"layer":[
{"data":{"name":"boxes"},"mark":{"type":"rect","fill":"#1e1e7d"},
"encoding":{
"x":{"field":"i","type":"quantitative","scale":{"domain":[-0.75,609.75],"nice":false,"zero":false},
"axis":{"title":null,"orient":"bottom","values":[-9,27,59,91,123,155,187,219,251,283,315,347,379,411,443,475,507,539,571,603],
"labelExpr":"datum.value < 0 ? '25 Nov 2015' : ['26 Nov 04:30','27 Nov 01:30','27 Nov 17:30','30 Nov 14:30','1 Dec 07:30','1 Dec 23:30','2 Dec 16:30','3 Dec 08:30','4 Dec 01:30','4 Dec 18:30','7 Dec 11:30','8 Dec 04:30','8 Dec 20:30','9 Dec 13:30','10 Dec 06:30','10 Dec 22:30','11 Dec 15:30','14 Dec 08:30','15 Dec 01:30'][(datum.value-27)/32]",
"domainColor":"#ffffff","tickColor":"#ffffff","tickSize":4,"labelColor":"#ffffff","labelFont":"Liberation Sans","labelFontSize":9,"labelAlign":"left","labelBaseline":"top","labelPadding":1,"labelFlush":false,"labelOverlap":false,"labelBound":false}},
"x2":{"field":"i2"},
"y":{"field":"p","type":"quantitative","scale":{"domain":[1012.14,1091.02],"nice":false,"zero":false},
"axis":{"title":null,"orient":"right","values":[1038.76,1042.06,1045.36,1048.61,1051.91,1055.16,1058.46,1061.71,1065.01,1068.31,1071.56,1074.86,1078.11,1081.41,1084.66,1087.96],"format":".2f",
"domainColor":"#ffffff","tickColor":"#ffffff","tickSize":3,"labelColor":"#ffffff","labelFont":"Liberation Sans","labelFontSize":9,"labelPadding":3,"labelBaseline":"middle","labelFlush":false,"labelOverlap":false,"labelBound":false}},
"y2":{"field":"p2"}}},
{"data":{"name":"bars"},"mark":{"type":"rule","color":"#30d030","strokeWidth":1},
"encoding":{"x":{"field":"i","type":"quantitative","scale":{"domain":[-0.75,609.75],"nice":false,"zero":false}},
"y":{"field":"p","type":"quantitative","scale":{"domain":[1012.14,1091.02],"nice":false,"zero":false}},"y2":{"field":"p2"}}},
{"data":{"name":"zero"},"mark":{"type":"rule","color":"#4169e1","strokeWidth":1},
"encoding":{"y":{"field":"p","type":"quantitative","scale":{"domain":[1012.14,1091.02],"nice":false,"zero":false}}}},
{"data":{"name":"zero"},"mark":{"type":"text","color":"#4f72e8","align":"right","baseline":"alphabetic","dy":-3},
"encoding":{"x":{"datum":609},"y":{"field":"p","type":"quantitative","scale":{"domain":[1012.14,1091.02],"nice":false,"zero":false}},"text":{"field":"lvl"}}},
{"data":{"name":"fe"},"mark":{"type":"rule","color":"#ffff00","strokeWidth":1},
"encoding":{"x":{"datum":237.75},"x2":{"datum":609.75},"y":{"field":"p","type":"quantitative","scale":{"domain":[1012.14,1091.02],"nice":false,"zero":false}}}},
{"data":{"name":"fe"},"mark":{"type":"text","color":"#ffff00","align":"right","baseline":"alphabetic","dy":-3},
"encoding":{"x":{"datum":609},"y":{"field":"p","type":"quantitative","scale":{"domain":[1012.14,1091.02],"nice":false,"zero":false}},"text":{"field":"lvl"}}},
{"data":{"name":"fibo"},"mark":{"type":"line","color":"#ff0000","strokeWidth":1,"strokeDash":[2,3]},
"encoding":{"x":{"field":"i","type":"quantitative","scale":{"domain":[-0.75,609.75],"nice":false,"zero":false}},
"y":{"field":"p","type":"quantitative","scale":{"domain":[1012.14,1091.02],"nice":false,"zero":false}}}},
{"data":{"name":"marks"},"mark":{"type":"rect","filled":false,"stroke":"#00ffff","strokeWidth":3},
"encoding":{"x":{"field":"i","type":"quantitative","scale":{"domain":[-0.75,609.75],"nice":false,"zero":false}},"x2":{"field":"i2"},
"y":{"field":"p","type":"quantitative","scale":{"domain":[1012.14,1091.02],"nice":false,"zero":false}},"y2":{"field":"p2"}}},
{"data":{"values":[{"t":"GOLD,M30  1191.58 1192.38 1191.06 1192.28"}]},"mark":{"type":"text","color":"#ffffff","align":"left","baseline":"alphabetic"},
"encoding":{"x":{"datum":2.75},"y":{"datum":1090.03},"text":{"field":"t"}}},
{"data":{"values":[{"a":1}]},"mark":{"type":"rule","color":"#ffffff","strokeWidth":3},
"encoding":{"x":{"datum":609.75},"y":{"datum":1055.4},"y2":{"datum":1038.7}}}
]},
{"layer":[
{"data":{"values":[{"a":1}]},"mark":{"type":"rule","color":"#6414b4","strokeWidth":1,"strokeDash":[4,3]},
"encoding":{"y":{"datum":32,"type":"quantitative","scale":{"domain":[0,301.9],"nice":false,"zero":false},
"axis":{"title":null,"orient":"right","values":[0,32,100],"format":"d","domainColor":"#ffffff","tickColor":"#ffffff","tickSize":0,"labelColor":"#ffffff","labelFont":"Liberation Sans","labelFontSize":9,"labelPadding":4,
"labelBaseline":{"condition":[{"test":"datum.value == 100","value":"top"},{"test":"datum.value == 0","value":"bottom"}],"value":"middle"},"labelFlush":false,"labelOverlap":false,"labelBound":false}}}},
{"data":{"name":"sep"},"mark":{"type":"rule","color":"#ffffff","strokeWidth":1},
"encoding":{"y":{"field":"r","type":"quantitative","scale":{"domain":[0,301.9],"nice":false,"zero":false}}}},
{"data":{"name":"bars"},"mark":{"type":"line","color":"#ffff00","strokeWidth":3},
"encoding":{"x":{"field":"i","type":"quantitative","scale":{"domain":[-0.75,609.75],"nice":false,"zero":false}},
"y":{"field":"r","type":"quantitative","scale":{"domain":[0,301.9],"nice":false,"zero":false}}}},
{"data":{"values":[{"t":"SI(5) 68.0091"}]},"mark":{"type":"text","color":"#ffffff","align":"left","baseline":"alphabetic"},
"encoding":{"x":{"datum":-0.25},"y":{"datum":95.4},"text":{"field":"t"}}}
]}
],
"resolve":{"scale":{"y":"independent"},"axis":{"y":"independent"}}
}
